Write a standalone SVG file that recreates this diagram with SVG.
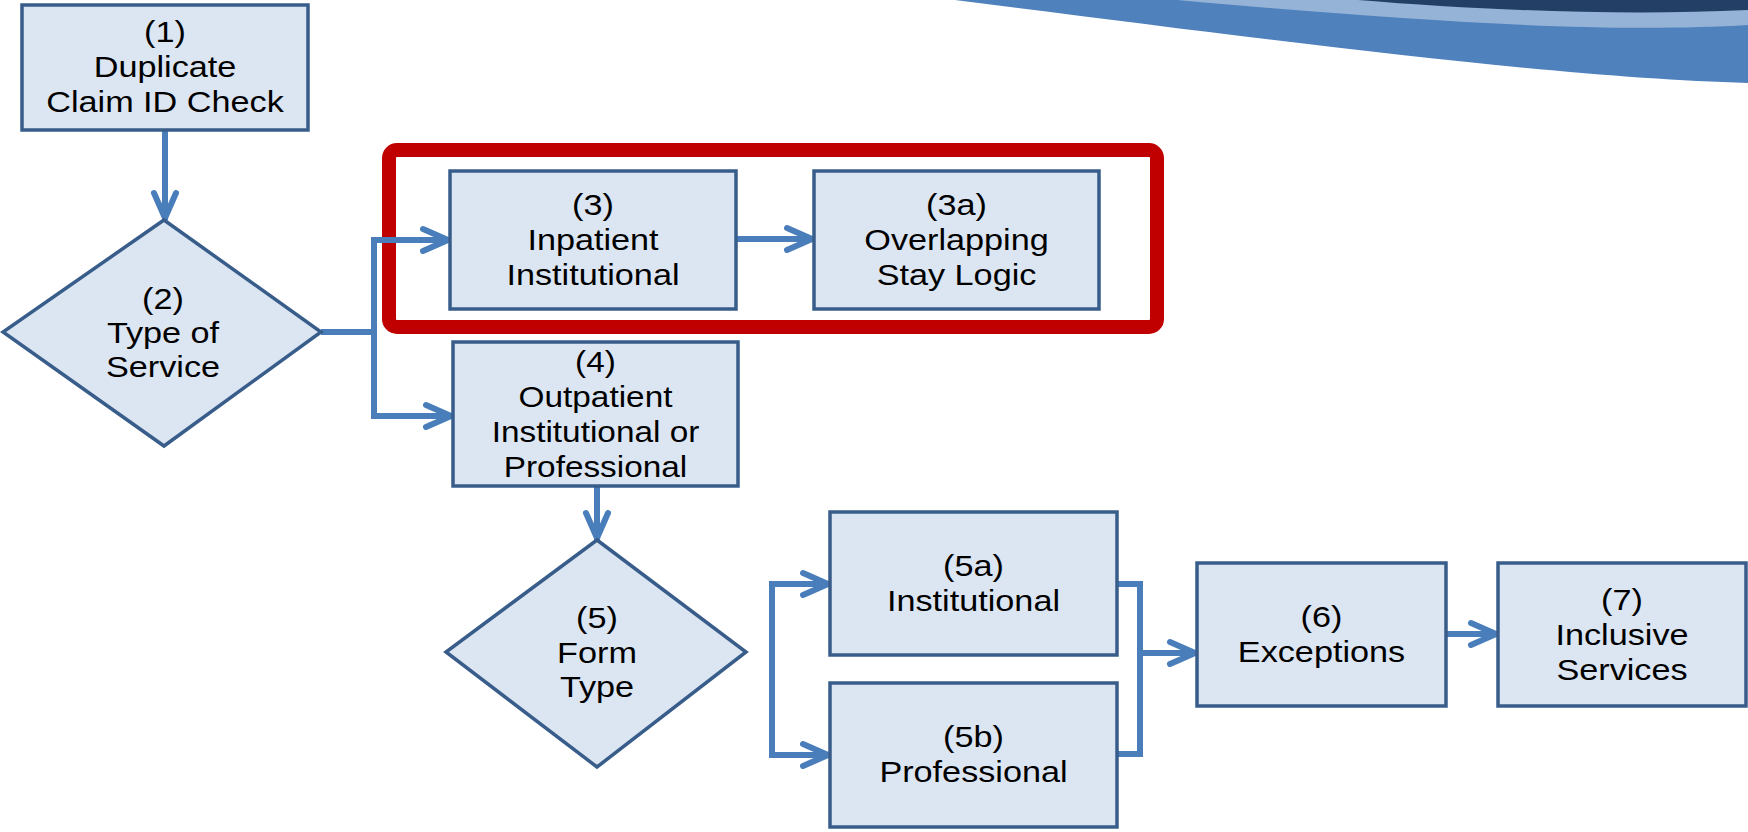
<svg xmlns="http://www.w3.org/2000/svg" width="1748" height="832" viewBox="0 0 1748 832">
<style>
.box{fill:#DCE6F2;stroke:#385D8A;stroke-width:3.5;}
.t{font-family:"Liberation Sans",Arial,sans-serif;font-size:29px;fill:#000;text-anchor:middle;}
.c{fill:none;stroke:#4A7EBB;stroke-width:6;stroke-linejoin:miter;}
.ca{fill:none;stroke:#4A7EBB;stroke-width:6;stroke-linejoin:miter;marker-end:url(#ah);}
.hl{fill:none;stroke:#C00000;stroke-width:14;}
</style>
<defs>
<marker id="ah" markerUnits="userSpaceOnUse" markerWidth="40" markerHeight="30" viewBox="0 0 40 30" refX="32" refY="15" orient="auto" overflow="visible">
<path d="M5,4 L30,15 L5,26" fill="none" stroke="#4A7EBB" stroke-width="6" stroke-linecap="round" stroke-linejoin="round"/>
</marker>
</defs>
<rect x="0" y="0" width="1748" height="832" fill="#FFFFFF"/>
<g id="wave">
<path d="M955,0 C1250,37 1550,78 1748,83 L1748,0 Z" fill="#4F81BD"/>
<path d="M1177,0 C1400,20 1600,34 1748,25 L1748,0 Z" fill="#95B3D7"/>
<path d="M1358,0 C1480,10 1620,16 1748,10 L1748,0 Z" fill="#243F66"/>
</g>
<g id="highlight">
<rect class="hl" x="389" y="150" width="768" height="177" rx="8"/>
</g>
<g id="connectors">
<path class="ca" d="M165,130 V220"/>
<path class="c" d="M321,332 H374"/>
<path class="ca" d="M374,332 V240 H450"/>
<path class="ca" d="M374,332 V416 H453"/>
<path class="ca" d="M736,239 H814"/>
<path class="ca" d="M597,486 V540"/>
<path class="ca" d="M772,670 V584 H830"/>
<path class="ca" d="M772,670 V755 H830"/>
<path class="c" d="M1117,584 H1140 V754 H1117"/>
<path class="ca" d="M1140,653 H1197"/>
<path class="ca" d="M1446,634 H1498"/>
</g>
<g id="n1">
<rect class="box" x="22" y="5" width="286" height="125"/>
<text class="t" transform="translate(165 0) scale(1.18 1)"><tspan x="0" y="42.5">(1)</tspan><tspan x="0" y="77.5">Duplicate</tspan><tspan x="0" y="112.5">Claim ID Check</tspan></text>
</g>
<g id="n2">
<polygon class="box" points="164,220 321,332 164,446 3,332"/>
<text class="t" transform="translate(163 0) scale(1.18 1)"><tspan x="0" y="309">(2)</tspan><tspan x="0" y="343">Type of</tspan><tspan x="0" y="377">Service</tspan></text>
</g>
<g id="n3">
<rect class="box" x="450" y="171" width="286" height="138"/>
<text class="t" transform="translate(593 0) scale(1.18 1)"><tspan x="0" y="215">(3)</tspan><tspan x="0" y="250">Inpatient</tspan><tspan x="0" y="285">Institutional</tspan></text>
</g>
<g id="n3a">
<rect class="box" x="814" y="171" width="285" height="138"/>
<text class="t" transform="translate(956.5 0) scale(1.18 1)"><tspan x="0" y="215">(3a)</tspan><tspan x="0" y="250">Overlapping</tspan><tspan x="0" y="285">Stay Logic</tspan></text>
</g>
<g id="n4">
<rect class="box" x="453" y="342" width="285" height="144"/>
<text class="t" transform="translate(595.5 0) scale(1.15 1)"><tspan x="0" y="372">(4)</tspan><tspan x="0" y="407">Outpatient</tspan><tspan x="0" y="442">Institutional or</tspan><tspan x="0" y="477">Professional</tspan></text>
</g>
<g id="n5">
<polygon class="box" points="597,540 746,652 597,767 446,652"/>
<text class="t" transform="translate(597 0) scale(1.18 1)"><tspan x="0" y="628">(5)</tspan><tspan x="0" y="663">Form</tspan><tspan x="0" y="697">Type</tspan></text>
</g>
<g id="n5a">
<rect class="box" x="830" y="512" width="287" height="143"/>
<text class="t" transform="translate(973.5 0) scale(1.18 1)"><tspan x="0" y="576">(5a)</tspan><tspan x="0" y="611">Institutional</tspan></text>
</g>
<g id="n5b">
<rect class="box" x="830" y="683" width="287" height="144"/>
<text class="t" transform="translate(973.5 0) scale(1.18 1)"><tspan x="0" y="747">(5b)</tspan><tspan x="0" y="782">Professional</tspan></text>
</g>
<g id="n6">
<rect class="box" x="1197" y="563" width="249" height="143"/>
<text class="t" transform="translate(1321.5 0) scale(1.18 1)"><tspan x="0" y="627">(6)</tspan><tspan x="0" y="662">Exceptions</tspan></text>
</g>
<g id="n7">
<rect class="box" x="1498" y="563" width="248" height="143"/>
<text class="t" transform="translate(1622 0) scale(1.18 1)"><tspan x="0" y="610">(7)</tspan><tspan x="0" y="645">Inclusive</tspan><tspan x="0" y="680">Services</tspan></text>
</g>
</svg>
